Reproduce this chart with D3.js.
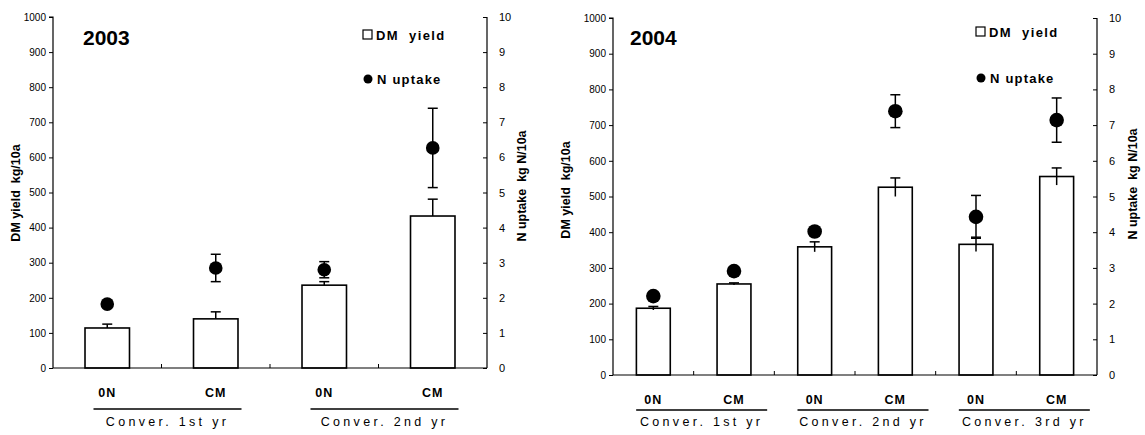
<!DOCTYPE html>
<html>
<head>
<meta charset="utf-8">
<script src="https://cdn.jsdelivr.net/npm/d3@7"></script>
<style>
  html, body { margin: 0; padding: 0; background: #fff; }
  svg { display: block; font-family: "Liberation Sans", Arial, sans-serif; }
</style>
</head>
<body>
<svg id="chart" width="1145" height="435"></svg>
<script>
// ---- data ----
const yieldTicks = [0, 100, 200, 300, 400, 500, 600, 700, 800, 900, 1000];
const uptakeTicks = [0, 1, 2, 3, 4, 5, 6, 7, 8, 9, 10];

const categories2003 = ["0N", "CM", "0N", "CM"];
const groups2003 = ["Conver. 1st yr", "Conver. 2nd yr"];
const dmYield2003 = [114, 140, 236, 433];
const dmErr2003 = [11, 20, 10, 48];
const nUptake2003 = [1.82, 2.85, 2.8, 6.27];
const nErr2003 = [0, 0.39, 0.23, 1.13];

const categories2004 = ["0N", "CM", "0N", "CM", "0N", "CM"];
const groups2004 = ["Conver. 1st yr", "Conver. 2nd yr", "Conver. 3rd yr"];
const dmYield2004 = [187, 255, 359, 526, 366, 556];
const dmErr2004 = [5, 3, 14, 26, 20, 24];
const nUptake2004 = [2.21, 2.91, 4.02, 7.39, 4.43, 7.14];
const nErr2004 = [0, 0, 0, 0.46, 0.6, 0.62];

// ---- layout ----
const panels = [
  { year: "2003", cats: categories2003, groups: groups2003, dm: dmYield2003, dmErr: dmErr2003,
    n: nUptake2003, nErr: nErr2003, dmLower: false,
    x0: 53, x1: 487, yTop: 17, yBot: 368, barFrac: 0.41, r: 6.8,
    title: [83, 45], legend: [363, 35, 79],
    catY: 397, lineY: 409, grpY: 426, lineHalf: 74, lineOff: 6,
    ylabL: [16, 193], ylabR: [522, 186] },
  { year: "2004", cats: categories2004, groups: groups2004, dm: dmYield2004, dmErr: dmErr2004,
    n: nUptake2004, nErr: nErr2004, dmLower: true,
    x0: 613, x1: 1097, yTop: 18, yBot: 375, barFrac: 0.42, r: 7.3,
    title: [630, 45], legend: [976, 32, 78],
    catY: 404, lineY: 410, grpY: 426, lineHalf: 65.5, lineOff: 8,
    ylabL: [566, 190], ylabR: [1133, 184] }
];

const svg = d3.select("#chart");

panels.forEach(p => {
  const g = svg.append("g");
  const idx = d3.range(p.cats.length);
  const x = d3.scaleBand().domain(idx).range([p.x0, p.x1]).padding(0);
  const yL = d3.scaleLinear().domain([0, 1000]).range([p.yBot, p.yTop]);
  const yR = d3.scaleLinear().domain([0, 10]).range([p.yBot, p.yTop]);
  const bw = x.bandwidth() * p.barFrac;
  const cx = i => x(i) + x.bandwidth() / 2;

  // left axis
  const axL = g.append("g").attr("transform", `translate(${p.x0},0)`)
    .call(d3.axisLeft(yL).tickValues(yieldTicks).tickSize(4).tickPadding(3).tickFormat(d3.format("d")));
  axL.selectAll("text").attr("font-size", 10).attr("fill", "#000");
  axL.selectAll("line").attr("stroke", "#000");
  axL.select(".domain").attr("stroke", "#000").attr("stroke-width", 1.2)
    .attr("d", `M-4,${p.yTop}H0V${p.yBot}`);

  // right axis (ticks inward)
  const axR = g.append("g").attr("transform", `translate(${p.x1},0)`)
    .call(d3.axisRight(yR).tickValues(uptakeTicks).tickSize(-4).tickPadding(12).tickFormat(d3.format("d")));
  axR.selectAll("text").attr("font-size", 11).attr("fill", "#000");
  axR.selectAll("line").attr("stroke", "#000");
  axR.select(".domain").attr("stroke", "#000").attr("stroke-width", 1.2)
    .attr("d", `M0,${p.yTop}V${p.yBot}`);

  // bars
  g.selectAll("rect.bar").data(idx).join("rect")
    .attr("class", "bar")
    .attr("x", i => cx(i) - bw / 2)
    .attr("width", bw)
    .attr("y", i => yL(p.dm[i]))
    .attr("height", i => yL(0) - yL(p.dm[i]))
    .attr("fill", "#fff").attr("stroke", "#000").attr("stroke-width", 1.6);

  // baseline and band ticks
  g.append("line").attr("x1", p.x0).attr("x2", p.x1).attr("y1", yL(0)).attr("y2", yL(0))
    .attr("stroke", "#000").attr("stroke-width", 1.2);
  g.selectAll("line.btick").data(idx.slice(1)).join("line")
    .attr("class", "btick")
    .attr("x1", i => x(i)).attr("x2", i => x(i))
    .attr("y1", yL(0)).attr("y2", yL(0) - 4)
    .attr("stroke", "#000").attr("stroke-width", 1);

  function seg(x1, y1, x2, y2) {
    g.append("line").attr("x1", x1).attr("x2", x2).attr("y1", y1).attr("y2", y2)
      .attr("stroke", "#000").attr("stroke-width", 1.5);
  }
  // DM yield error bars: upper cap, lower part optional without cap
  idx.forEach(i => {
    if (p.dmErr[i] <= 0) return;
    const c = cx(i), hi = yL(p.dm[i] + p.dmErr[i]);
    const lo = p.dmLower ? yL(p.dm[i] - p.dmErr[i]) : yL(p.dm[i]);
    seg(c, hi, c, lo);
    seg(c - 5, hi, c + 5, hi);
  });
  // N uptake error bars: both caps
  idx.forEach(i => {
    if (p.nErr[i] <= 0) return;
    const c = cx(i), hi = yR(p.n[i] + p.nErr[i]), lo = yR(p.n[i] - p.nErr[i]);
    seg(c, hi, c, lo);
    seg(c - 5, hi, c + 5, hi);
    seg(c - 5, lo, c + 5, lo);
  });

  // dots
  g.selectAll("circle.dot").data(idx).join("circle")
    .attr("class", "dot")
    .attr("cx", i => cx(i)).attr("cy", i => yR(p.n[i])).attr("r", p.r)
    .attr("fill", "#000");

  // category labels
  g.selectAll("text.cat").data(idx).join("text")
    .attr("class", "cat")
    .attr("x", i => cx(i)).attr("y", p.catY)
    .attr("text-anchor", "middle").attr("font-size", 12.5).attr("font-weight", "bold")
    .attr("letter-spacing", 1)
    .text(i => p.cats[i]);

  // group underline + labels
  p.groups.forEach((name, gi) => {
    const a = gi * 2, b = gi * 2 + 1;
    const mid = (cx(a) + cx(b)) / 2 + p.lineOff;
    g.append("line").attr("x1", mid - p.lineHalf).attr("x2", mid + p.lineHalf)
      .attr("y1", p.lineY).attr("y2", p.lineY).attr("stroke", "#000").attr("stroke-width", 1.4);
    g.append("text").attr("x", mid).attr("y", p.grpY)
      .attr("text-anchor", "middle").attr("font-size", 12.5).attr("letter-spacing", 3.3)
      .text(name);
  });

  // title
  g.append("text").attr("x", p.title[0]).attr("y", p.title[1])
    .attr("font-size", 21).attr("font-weight", "bold").text(p.year);

  // legend
  const [lx, ly1, ly2] = p.legend;
  g.append("rect").attr("x", lx).attr("y", ly1 - 5).attr("width", 9).attr("height", 9)
    .attr("fill", "#fff").attr("stroke", "#000").attr("stroke-width", 1.2);
  g.append("text").attr("x", lx + 13).attr("y", ly1 + 4.5)
    .attr("font-size", 13).attr("font-weight", "bold").attr("letter-spacing", 1.4)
    .attr("xml:space", "preserve").text("DM  yield");
  g.append("circle").attr("cx", lx + 5).attr("cy", ly2).attr("r", 4.5).attr("fill", "#000");
  g.append("text").attr("x", lx + 14).attr("y", ly2 + 4.5)
    .attr("font-size", 13).attr("font-weight", "bold").attr("letter-spacing", 1.2).text("N uptake");

  // axis titles
  g.append("text").attr("transform", `translate(${p.ylabL[0]},${p.ylabL[1]}) rotate(-90)`)
    .attr("text-anchor", "middle").attr("dominant-baseline", "central")
    .attr("font-size", 12.5).attr("font-weight", "bold").attr("xml:space", "preserve")
    .text("DM yield  kg/10a");
  g.append("text").attr("transform", `translate(${p.ylabR[0]},${p.ylabR[1]}) rotate(-90)`)
    .attr("text-anchor", "middle").attr("dominant-baseline", "central")
    .attr("font-size", 12.5).attr("font-weight", "bold").attr("xml:space", "preserve")
    .text("N uptake  kg N/10a");
});
</script>
</body>
</html>
